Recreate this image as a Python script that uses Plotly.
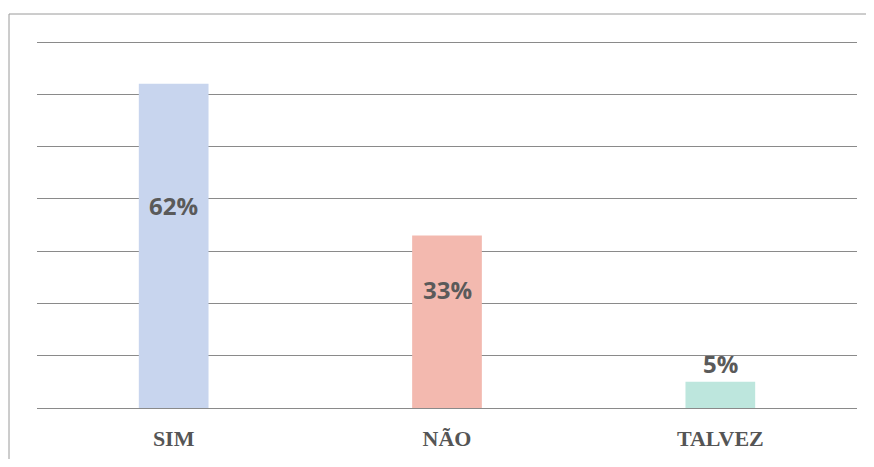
import plotly.graph_objects as go

categories = ["SIM", "NÃO", "TALVEZ"]
values = [62, 33, 5]
value_labels = ["62%", "33%", "5%"]
label_y = [38.8, 22.6, 8.6]
bar_colors = ["#c8d5ee", "#f3b9af", "#bde6dd"]

W, H = 858, 451
L, R, T, B = 29, 9, 33, 51
ph = H - T - B

fig = go.Figure()
fig.add_trace(go.Bar(
    x=categories, y=values, marker=dict(color=bar_colors, line=dict(width=0)),
    width=0.255, hoverinfo="skip",
))

for c, t, yy in zip(categories, value_labels, label_y):
    fig.add_annotation(x=c, y=yy, text=t, showarrow=False,
                       font=dict(family="Open Sans", size=24, color="#5a5a5a", weight="bold"),
                       xanchor="center", yanchor="middle")

fig.update_layout(
    width=W, height=H,
    margin=dict(l=L, r=R, t=T, b=B),
    paper_bgcolor="white", plot_bgcolor="white",
    showlegend=False,
    xaxis=dict(showgrid=False, showline=False, ticks="", zeroline=False,
               tickfont=dict(family="Liberation Serif", size=22, color="#555555", weight="bold"),
               ticklabelstandoff=15),
    yaxis=dict(range=[0, 70.2], dtick=10, showticklabels=False, showgrid=True,
               gridcolor="#8a8a8a", gridwidth=1, zeroline=True, zerolinecolor="#8a8a8a",
               zerolinewidth=1, showline=False),
    shapes=[dict(type="rect", xref="paper", yref="paper",
                 x0=(1 - L) / (W - L - R), x1=(W + 20 - L) / (W - L - R),
                 y0=(H - B - (H + 20)) / ph, y1=(H - B - 6) / ph,
                 line=dict(color="#9a9a9a", width=1), layer="below")],
)

fig.write_html("out.html")
